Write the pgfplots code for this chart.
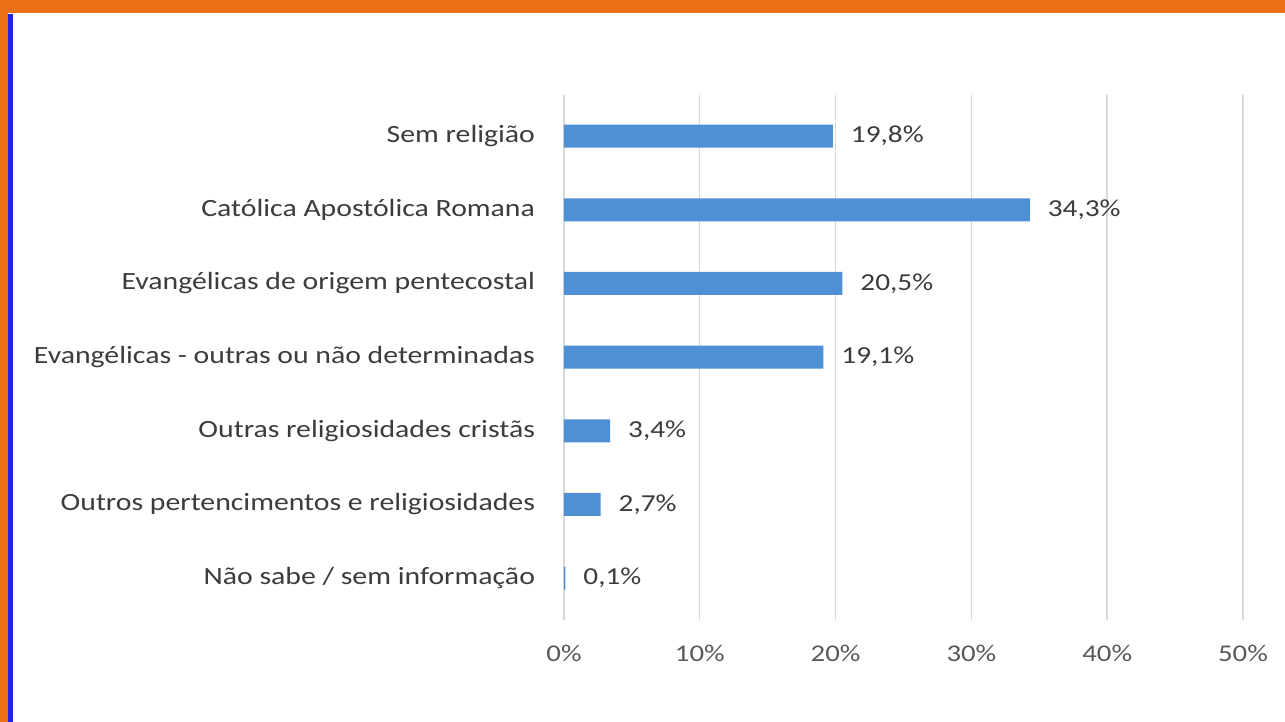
\documentclass[border=0pt]{standalone}
\usepackage{fontspec}
\setmainfont{Carlito}[FakeStretch=1.2]
\usepackage{pgfplots}
\pgfplotsset{compat=1.18}
\definecolor{barblue}{RGB}{79,143,212}
\definecolor{orangeb}{RGB}{236,112,22}
\definecolor{blueb}{RGB}{36,36,216}
\definecolor{labgray}{RGB}{60,60,60}
\definecolor{tickgray}{RGB}{89,89,89}
\definecolor{gridgray}{RGB}{217,217,217}
\begin{document}
\begin{tikzpicture}
\fill[white] (0,0) rectangle (642.5pt,361pt);
\fill[orangeb] (0,354.5pt) rectangle (642.5pt,361pt);
\fill[orangeb] (0,0) rectangle (3.75pt,361pt);
\fill[blueb] (3.75pt,0) rectangle (6.5pt,354pt);
\begin{axis}[
  at={(282pt,51pt)}, anchor=south west,
  scale only axis, width=339.5pt, height=262.5pt,
  xbar, bar width=11.5pt,
  xmin=0, xmax=50, ymin=-0.57, ymax=6.56,
  axis line style={draw=none},
  major tick length=0pt,
  xmajorgrids, grid style={gridgray, line width=0.7pt},
  xtick={0,10,...,50},
  xticklabel={\pgfmathprintnumber{\tick}\%},
  /pgf/number format/assume math mode=true,
  xticklabel style={font=\fontsize{12}{14}\selectfont, color=tickgray, yshift=-9pt},
  ytick={0,...,6},
  yticklabels={N\~ao sabe / sem informa\c{c}\~ao, Outros pertencimentos e religiosidades, Outras religiosidades crist\~as, Evang\'elicas - outras ou n\~ao determinadas, Evang\'elicas de origem pentecostal, Cat\'olica Apost\'olica Romana, Sem religi\~ao},
  yticklabel style={font=\fontsize{12.4}{14}\selectfont, color=labgray, xshift=-11pt},
  point meta=x,
  nodes near coords={\pgfmathprintnumber[use comma,fixed,fixed zerofill,precision=1]{\pgfplotspointmeta}\%},
  nodes near coords style={anchor=west, xshift=5.5pt, font=\fontsize{12.2}{14}\selectfont, color=labgray},
]
\addplot[fill=barblue, draw=none] coordinates {
  (0.1,0) (2.7,1) (3.4,2) (19.1,3) (20.5,4) (34.3,5) (19.8,6)
};
\end{axis}
\end{tikzpicture}
\end{document}
